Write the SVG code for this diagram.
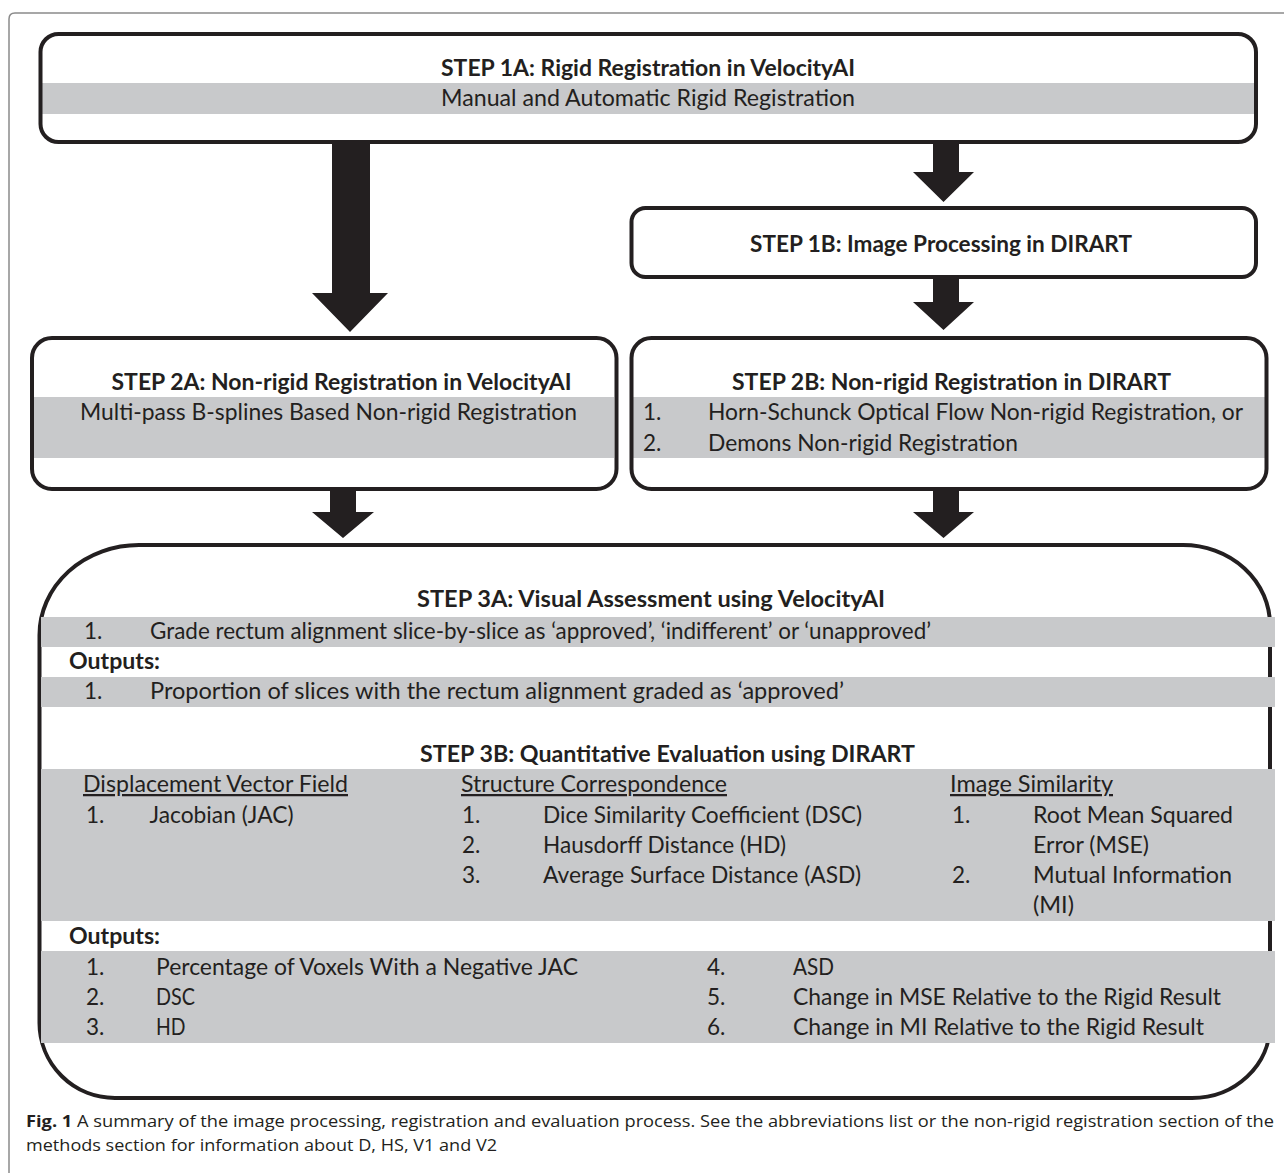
<svg xmlns="http://www.w3.org/2000/svg" width="1284" height="1173" viewBox="0 0 1284 1173">
<style>
.t{font-family:Lato,"Liberation Sans",sans-serif;font-size:22.5px;fill:#231f20}
.b{font-weight:bold}
.u{text-decoration:underline}
.box{fill:none;stroke:#231f20;stroke-width:4}
.band{fill:#c8c9cb}
.arrow{fill:#231f20}
.cap{font-family:"Open Sans","Liberation Sans",sans-serif;font-size:16.5px;fill:#231f20}
</style>
<rect x="0" y="0" width="1284" height="1173" fill="#ffffff"/>
<path d="M9 1173 V19 Q9 13 15 13 H1284" fill="none" stroke="#8a8a8a" stroke-width="1.5"/>

<g id="connectors">
<polygon class="arrow" points="332,142 370,142 370,293 388,293 350,332 312,293 332,293"/>
<polygon class="arrow" points="933,142 959,142 959,172 974,172 943.5,202 913,172 933,172"/>
<polygon class="arrow" points="933,279 959,279 959,302 974,302 943.5,330 913,302 933,302"/>
<polygon class="arrow" points="330,491 356,491 356,512 374,512 343,538 312,512 330,512"/>
<polygon class="arrow" points="933,491 959,491 959,512 974,512 943.5,538 913,512 933,512"/>
</g>

<g id="step1a">
<rect class="band" x="42" y="83" width="1212" height="31"/>
<rect class="box" x="40.5" y="34" width="1215.5" height="108" rx="18"/>
<text class="t b" x="441" y="76" textLength="414" lengthAdjust="spacingAndGlyphs">STEP 1A: Rigid Registration in VelocityAI</text>
<text class="t" x="441" y="106" textLength="414" lengthAdjust="spacingAndGlyphs">Manual and Automatic Rigid Registration</text>
</g>

<g id="step1b">
<rect class="box" x="631.5" y="208" width="624.5" height="69" rx="14"/>
<text class="t b" x="750" y="252" textLength="382" lengthAdjust="spacingAndGlyphs">STEP 1B: Image Processing in DIRART</text>
</g>

<g id="step2a">
<rect class="band" x="34" y="397" width="580" height="61"/>
<rect class="box" x="32" y="338" width="584.5" height="151" rx="20"/>
<text class="t b" x="111.5" y="390" textLength="460" lengthAdjust="spacingAndGlyphs">STEP 2A: Non-rigid Registration in VelocityAI</text>
<text class="t" x="80" y="420" textLength="497" lengthAdjust="spacingAndGlyphs">Multi-pass B-splines Based Non-rigid Registration</text>
</g>

<g id="step2b">
<rect class="band" x="633" y="397" width="632" height="61"/>
<rect class="box" x="631.5" y="338" width="635" height="151" rx="20"/>
<text class="t b" x="732" y="390" textLength="439" lengthAdjust="spacingAndGlyphs">STEP 2B: Non-rigid Registration in DIRART</text>
<text class="t" x="643" y="420">1.</text>
<text class="t" x="708" y="420" textLength="535" lengthAdjust="spacingAndGlyphs">Horn-Schunck Optical Flow Non-rigid Registration, or</text>
<text class="t" x="643" y="451">2.</text>
<text class="t" x="708" y="451" textLength="310" lengthAdjust="spacingAndGlyphs">Demons Non-rigid Registration</text>
</g>

<g id="step3">
<path class="box" d="M139 545 H1183 A87 80 0 0 1 1270 625 V1025 A78 73 0 0 1 1192 1098 H115 A75.5 75 0 0 1 39.5 1023 V635 A99.5 90 0 0 1 139 545 Z"/>
<rect class="band" x="41" y="617" width="1234" height="30"/>
<rect class="band" x="41" y="677" width="1234" height="30"/>
<rect class="band" x="41" y="769" width="1234" height="152"/>
<rect class="band" x="41" y="951" width="1234" height="92"/>

<text class="t b" x="417" y="607" textLength="468" lengthAdjust="spacingAndGlyphs">STEP 3A: Visual Assessment using VelocityAI</text>
<text class="t" x="84" y="639">1.</text>
<text class="t" x="150" y="639" textLength="781" lengthAdjust="spacingAndGlyphs">Grade rectum alignment slice-by-slice as ‘approved’, ‘indifferent’ or ‘unapproved’</text>
<text class="t b" x="69" y="669" textLength="91" lengthAdjust="spacingAndGlyphs">Outputs:</text>
<text class="t" x="84" y="699">1.</text>
<text class="t" x="150" y="699" textLength="694" lengthAdjust="spacingAndGlyphs">Proportion of slices with the rectum alignment graded as ‘approved’</text>

<text class="t b" x="420" y="762" textLength="495" lengthAdjust="spacingAndGlyphs">STEP 3B: Quantitative Evaluation using DIRART</text>
<text class="t u" x="83" y="792" textLength="265" lengthAdjust="spacingAndGlyphs">Displacement Vector Field</text>
<text class="t u" x="461" y="792" textLength="266" lengthAdjust="spacingAndGlyphs">Structure Correspondence</text>
<text class="t u" x="950" y="792" textLength="163" lengthAdjust="spacingAndGlyphs">Image Similarity</text>

<text class="t" x="86" y="823">1.</text>
<text class="t" x="149.5" y="823" textLength="144" lengthAdjust="spacingAndGlyphs">Jacobian (JAC)</text>
<text class="t" x="462" y="823">1.</text>
<text class="t" x="543" y="823" textLength="319" lengthAdjust="spacingAndGlyphs">Dice Similarity Coefficient (DSC)</text>
<text class="t" x="952" y="823">1.</text>
<text class="t" x="1033" y="823" textLength="200" lengthAdjust="spacingAndGlyphs">Root Mean Squared</text>

<text class="t" x="462" y="853">2.</text>
<text class="t" x="543" y="853" textLength="243" lengthAdjust="spacingAndGlyphs">Hausdorff Distance (HD)</text>
<text class="t" x="1033" y="853" textLength="116" lengthAdjust="spacingAndGlyphs">Error (MSE)</text>

<text class="t" x="462" y="883">3.</text>
<text class="t" x="543" y="883" textLength="318" lengthAdjust="spacingAndGlyphs">Average Surface Distance (ASD)</text>
<text class="t" x="952" y="883">2.</text>
<text class="t" x="1033" y="883" textLength="199" lengthAdjust="spacingAndGlyphs">Mutual Information</text>
<text class="t" x="1033" y="913" textLength="41" lengthAdjust="spacingAndGlyphs">(MI)</text>

<text class="t b" x="69" y="944" textLength="91" lengthAdjust="spacingAndGlyphs">Outputs:</text>
<text class="t" x="86" y="975">1.</text>
<text class="t" x="156" y="975" textLength="422" lengthAdjust="spacingAndGlyphs">Percentage of Voxels With a Negative JAC</text>
<text class="t" x="86" y="1005">2.</text>
<text class="t" x="156" y="1005" textLength="39" lengthAdjust="spacingAndGlyphs">DSC</text>
<text class="t" x="86" y="1035">3.</text>
<text class="t" x="156" y="1035" textLength="29.5" lengthAdjust="spacingAndGlyphs">HD</text>
<text class="t" x="707" y="975">4.</text>
<text class="t" x="793" y="975" textLength="41" lengthAdjust="spacingAndGlyphs">ASD</text>
<text class="t" x="707" y="1005">5.</text>
<text class="t" x="793" y="1005" textLength="428" lengthAdjust="spacingAndGlyphs">Change in MSE Relative to the Rigid Result</text>
<text class="t" x="707" y="1035">6.</text>
<text class="t" x="793" y="1035" textLength="411" lengthAdjust="spacingAndGlyphs">Change in MI Relative to the Rigid Result</text>
</g>

<g id="caption">
<text class="cap" x="26" y="1127" textLength="1248" lengthAdjust="spacingAndGlyphs"><tspan font-weight="bold">Fig. 1</tspan> A summary of the image processing, registration and evaluation process. See the abbreviations list or the non-rigid registration section of the</text>
<text class="cap" x="26" y="1151" textLength="471" lengthAdjust="spacingAndGlyphs">methods section for information about D, HS, V1 and V2</text>
</g>
</svg>
